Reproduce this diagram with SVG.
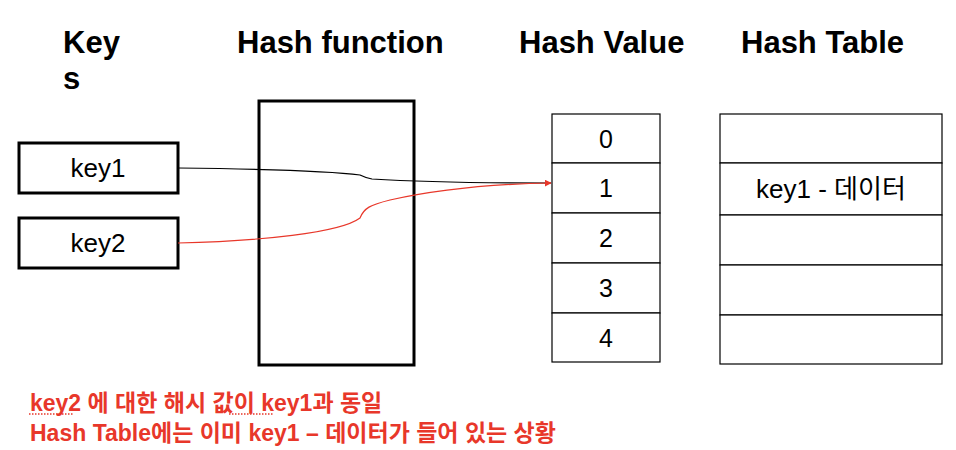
<svg xmlns="http://www.w3.org/2000/svg" width="956" height="450" viewBox="0 0 956 450">
<defs>
<style>
.h{font-family:"Liberation Sans","Noto Sans CJK KR",sans-serif;font-weight:bold;font-size:31px;fill:#000}
.t{font-family:"Liberation Sans","Noto Sans CJK KR",sans-serif;font-size:26px;fill:#000;text-anchor:middle}
.n{font-family:"Liberation Sans","Noto Sans CJK KR",sans-serif;font-size:25px;fill:#000;text-anchor:middle}
.note{font-family:"Liberation Sans","Noto Sans CJK KR",sans-serif;font-weight:bold;font-size:23px;fill:#e8372a}
.thick{fill:#fff;stroke:#000;stroke-width:3}
.thin{fill:#fff;stroke:#000;stroke-width:1.2}
.line{fill:none;stroke-width:1.2}
.spell{fill:none;stroke:#e8372a;stroke-width:1.5;stroke-dasharray:1.5 1.5}
</style>
<marker id="arr" viewBox="0 0 10 10" refX="9" refY="5" markerWidth="7" markerHeight="7" orient="auto" markerUnits="userSpaceOnUse">
<path d="M0,0 L10,5 L0,10 z" fill="#e8372a"/>
</marker>
</defs>
<rect width="956" height="450" fill="#fff"/>
<g id="titles">
<text class="h" x="63" y="53">Key</text>
<text class="h" x="63" y="89">s</text>
<text class="h" x="237" y="53">Hash function</text>
<text class="h" x="519" y="53">Hash Value</text>
<text class="h" x="741" y="53">Hash Table</text>
</g>
<g id="key1"><rect class="thick" x="19" y="143" width="159" height="50"/><text class="t" x="98" y="177">key1</text></g>
<g id="key2"><rect class="thick" x="19" y="218" width="159" height="50"/><text class="t" x="98" y="252">key2</text></g>
<g id="hashfn"><rect class="thick" x="259" y="101" width="155" height="264" fill="none"/></g>
<g id="connectors">
<path class="line" stroke="#000" d="M178,168 C260,169 330,171 360,175 C364,177 366,178 372,179 C420,182 480,183 551,183"/>
<path class="line" stroke="#e8372a" d="M178,243 C260,241 340,233 360,218 C364,208 370,205 390,200 C440,189 490,184 551,183" marker-end="url(#arr)"/>
</g>
<g id="hashvalue">
<rect class="thin" x="552" y="114" width="108" height="49"/>
<rect class="thin" x="552" y="163" width="108" height="50"/>
<rect class="thin" x="552" y="213" width="108" height="50"/>
<rect class="thin" x="552" y="263" width="108" height="50"/>
<rect class="thin" x="552" y="313" width="108" height="49"/>
<text class="n" x="606" y="148">0</text>
<text class="n" x="606" y="197">1</text>
<text class="n" x="606" y="247">2</text>
<text class="n" x="606" y="297">3</text>
<text class="n" x="606" y="347">4</text>
</g>
<g id="hashtable">
<rect class="thin" x="720" y="114" width="222" height="49"/>
<rect class="thin" x="720" y="163" width="222" height="52"/>
<rect class="thin" x="720" y="215" width="222" height="50"/>
<rect class="thin" x="720" y="265" width="222" height="50"/>
<rect class="thin" x="720" y="315" width="222" height="49"/>
<text class="t" x="831" y="198">key1 - 데이터</text>
</g>
<g id="note">
<text class="note" x="30" y="411">key2 에 대한 해시 값이 key1과 동일</text>
<text class="note" x="30" y="441">Hash Table에는 이미 key1 – 데이터가 들어 있는 상황</text>
<path class="spell" d="M29,414 H73 M229,414 H273"/>
</g>
</svg>
